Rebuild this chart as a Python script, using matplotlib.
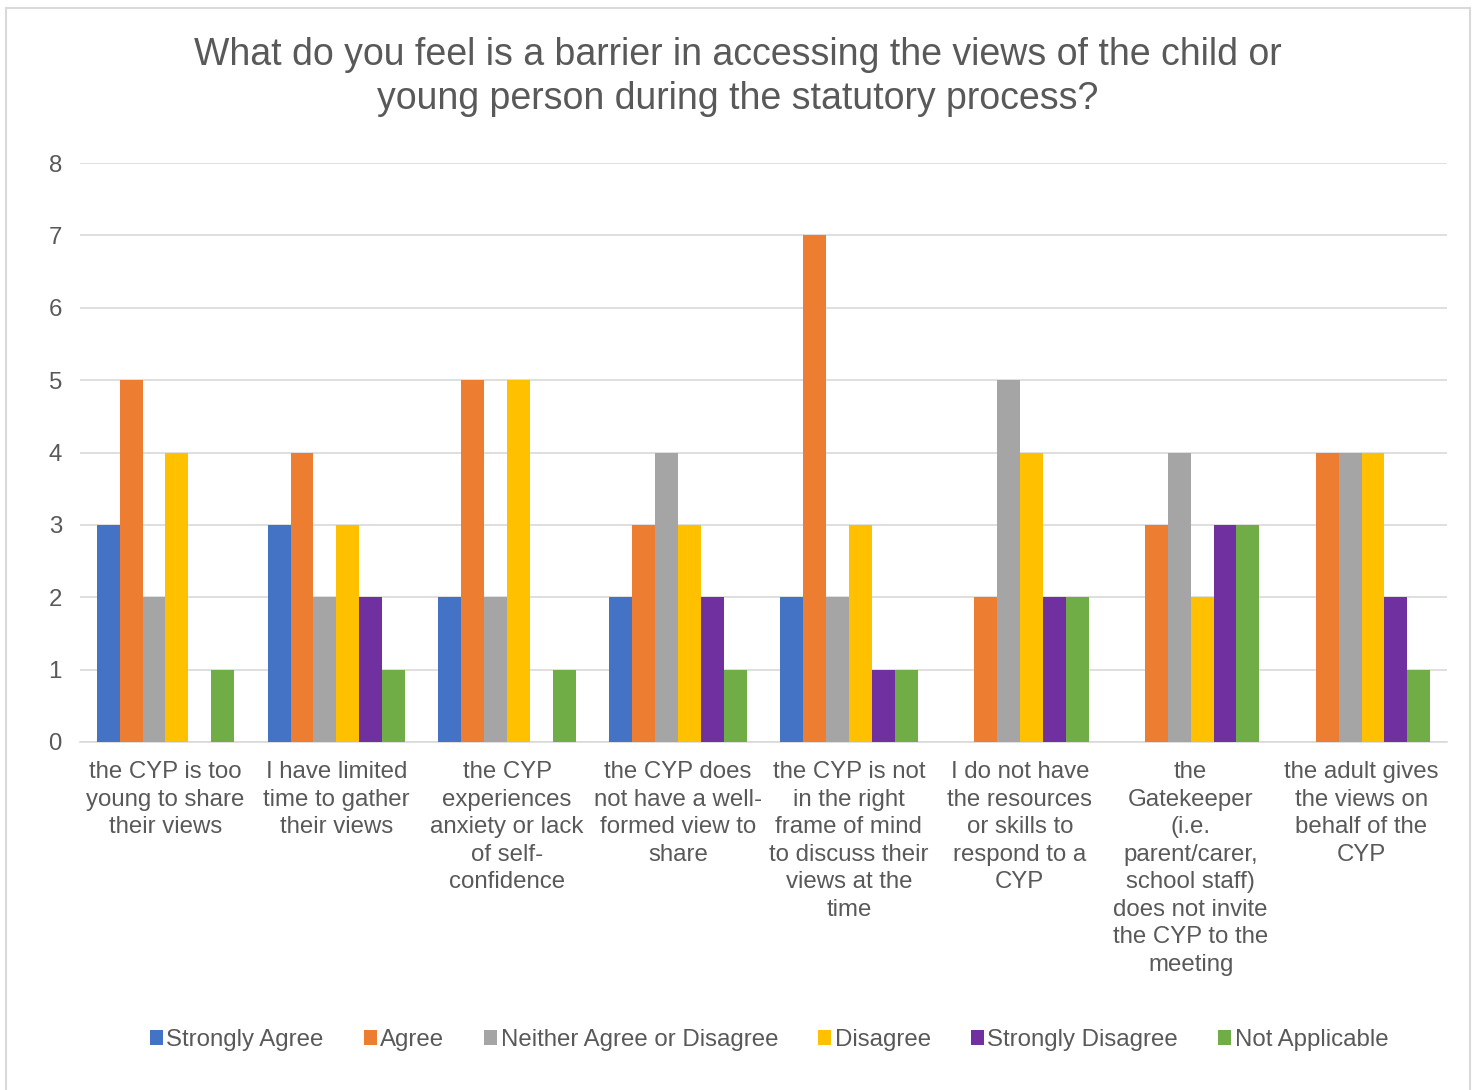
import numpy as np
import matplotlib.pyplot as plt
from matplotlib.patches import Rectangle

plt.rcParams['font.family'] = ['Liberation Sans', 'DejaVu Sans']

# Survey responses per barrier
categories = [
    'the CYP is too\nyoung to share\ntheir views',
    'I have limited\ntime to gather\ntheir views',
    'the CYP\nexperiences\nanxiety or lack\nof self-\nconfidence',
    'the CYP does\nnot have a well-\nformed view to\nshare',
    'the CYP is not\nin the right\nframe of mind\nto discuss their\nviews at the\ntime',
    'I do not have\nthe resources\nor skills to\nrespond to a\nCYP',
    'the\nGatekeeper\n(i.e.\nparent/carer,\nschool staff)\ndoes not invite\nthe CYP to the\nmeeting',
    'the adult gives\nthe views on\nbehalf of the\nCYP',
]
series_names = ['Strongly Agree', 'Agree', 'Neither Agree or Disagree',
                'Disagree', 'Strongly Disagree', 'Not Applicable']
strongly_agree = [3, 3, 2, 2, 2, 0, 0, 0]
agree = [5, 4, 5, 3, 7, 2, 3, 4]
neither = [2, 2, 2, 4, 2, 5, 4, 4]
disagree = [4, 3, 5, 3, 3, 4, 2, 4]
strongly_disagree = [0, 2, 0, 2, 1, 2, 3, 2]
not_applicable = [1, 1, 1, 1, 1, 2, 3, 1]
series = [strongly_agree, agree, neither, disagree, strongly_disagree, not_applicable]
colors = ['#4472C4', '#ED7D31', '#A5A5A5', '#FFC000', '#7030A0', '#70AD47']

text_color = '#595959'

fig = plt.figure(figsize=(14.76, 10.9), dpi=100)
W, H = 1476, 1090
ax = fig.add_axes([80 / W, 1 - 742 / H, (1447 - 80) / W, (742 - 163) / H])

x = np.arange(len(categories))
bw = 0.134
for i, (name, vals, c) in enumerate(zip(series_names, series, colors)):
    ax.bar(x + (i - 2.5) * bw, vals, bw, color=c, label=name, zorder=3)

ax.set_xlim(-0.5, len(categories) - 0.5)
ax.set_ylim(0, 8)
ax.set_yticks(range(9))
ax.yaxis.grid(True, color='#D9D9D9', linewidth=1.2, zorder=0)
ax.set_xticks(x)
ax.set_xticklabels(categories, fontsize=17.3, color=text_color, linespacing=1.32)
ax.tick_params(axis='both', length=0, colors=text_color, labelsize=17.3)
ax.tick_params(axis='x', pad=14)
ax.tick_params(axis='y', pad=13)
for s in ['top', 'right', 'left']:
    ax.spines[s].set_visible(False)
ax.spines['bottom'].set_color('#D9D9D9')
ax.spines['bottom'].set_linewidth(1.2)

fig.text(0.5, 1 - 77 / H,
         'What do you feel is a barrier in accessing the views of the child or\n'
         'young person during the statutory process?',
         ha='center', va='center', fontsize=27, color=text_color, linespacing=1.29)

fig.legend(loc='center', bbox_to_anchor=(769 / W, 1 - 1040 / H), ncol=6,
           frameon=False, fontsize=17.3, labelcolor=text_color,
           handlelength=0.55, handleheight=0.55, handletextpad=0.15,
           columnspacing=1.65)

# outer chart border
fig.patches.append(Rectangle((6 / W, -0.01), (1470 - 6) / W, 1 - 8 / H + 0.01,
                             transform=fig.transFigure, fill=False,
                             edgecolor='#D9D9D9', linewidth=1.5))

fig.savefig('out.png', dpi=100)
